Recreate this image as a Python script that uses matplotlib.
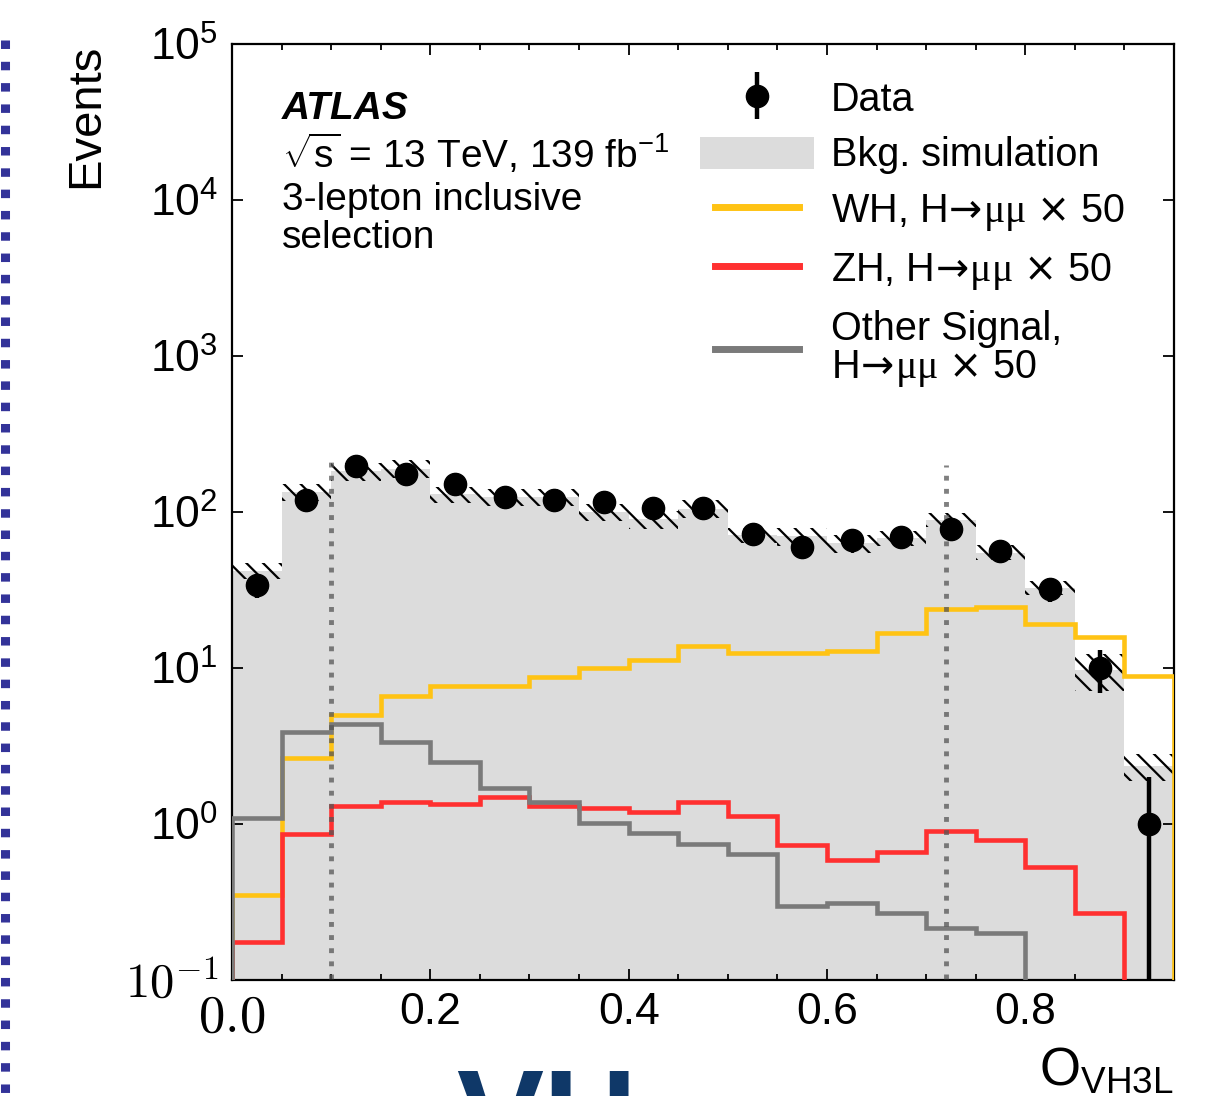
import numpy as np
import matplotlib
matplotlib.use("Agg")
import matplotlib.pyplot as plt
from matplotlib.lines import Line2D
from matplotlib.patches import Patch
from matplotlib.legend_handler import HandlerLine2D, HandlerErrorbar
from matplotlib.container import ErrorbarContainer

# ---------------- data ----------------
edges = [0.00, 0.05, 0.10, 0.15, 0.20, 0.25, 0.30, 0.35, 0.40, 0.45,
         0.50, 0.55, 0.60, 0.65, 0.70, 0.75, 0.80, 0.85, 0.90, 0.95]
data = [34, 119, 197, 175, 151, 125, 119, 116, 106, 106,
        72, 60, 66, 69, 78, 56, 32, 10, 1]
data_err_dn = [5.8, 10.9, 14.0, 13.2, 12.3, 11.2, 10.9, 10.8, 10.3, 10.3,
               8.5, 7.7, 8.1, 8.3, 8.8, 7.5, 5.7, 3.1, 1.0]
data_err_up = [5.8, 10.9, 14.0, 13.2, 12.3, 11.2, 10.9, 10.8, 10.3, 10.3,
               8.5, 7.7, 8.1, 8.3, 8.8, 7.5, 5.7, 3.1, 1.0]
bkg = [42, 134, 182, 190, 130, 125, 125, 100, 90, 105,
       71, 70, 63, 68, 89, 55, 32.6, 9.7, 2.35]
bkg_rel_unc = [0.12, 0.12, 0.13, 0.13, 0.12, 0.13, 0.12, 0.13, 0.13, 0.13,
               0.11, 0.13, 0.13, 0.11, 0.10, 0.11, 0.10, 0.27, 0.20]
wh = [0.35, 2.65, 5.0, 6.6, 7.7, 7.7, 8.7, 10.0, 11.3, 13.8,
      12.5, 12.5, 12.9, 16.8, 23.9, 24.6, 19.1, 15.8, 8.9]
zh = [0.175, 0.86, 1.30, 1.38, 1.34, 1.49, 1.30, 1.26, 1.19, 1.38,
      1.13, 0.73, 0.59, 0.66, 0.90, 0.79, 0.53, 0.27, 0.0]
other = [1.09, 3.89, 4.37, 3.36, 2.50, 1.70, 1.38, 1.01, 0.875, 0.745,
         0.64, 0.30, 0.31, 0.27, 0.215, 0.20, 0.0, 0.0, 0.0]
cut_positions = [0.10, 0.72]
cut_heights = [230, 200]

ytick_vals = [1e-1, 1e0, 1e1, 1e2, 1e3, 1e4, 1e5]
ytick_labels = [r"$10^{-1}$", r"$10^{0}$", r"$10^{1}$", r"$10^{2}$",
                r"$10^{3}$", r"$10^{4}$", r"$10^{5}$"]
xtick_vals = [0.0, 0.2, 0.4, 0.6, 0.8]
xtick_labels = [r"$0.0$", "0.2", "0.4", "0.6", "0.8"]
_hmm = r"H$\!\mathsf{\rightarrow}\!\mathtt{\mu\mu}$ $\mathsf{\times}$ 50"
legend_labels = ["Data", "Bkg. simulation",
                 "WH, " + _hmm,
                 "ZH, " + _hmm,
                 "Other Signal,\n" + _hmm]

# ---------------- style ----------------
plt.rcParams["font.family"] = ["Liberation Sans", "DejaVu Sans"]
plt.rcParams["mathtext.fontset"] = "custom"
plt.rcParams["mathtext.rm"] = "Liberation Sans"
plt.rcParams["mathtext.it"] = "Liberation Sans:italic"
plt.rcParams["mathtext.bf"] = "Liberation Sans:bold"
plt.rcParams["mathtext.sf"] = "DejaVu Sans"
plt.rcParams["mathtext.tt"] = "Liberation Serif"
plt.rcParams["hatch.linewidth"] = 1.6
plt.rcParams["hatch.color"] = "black"

C_BKG = "#dcdcdc"
C_WH = "#ffc314"
C_ZH = "#ff3030"
C_OTH = "#7a7a7a"

edges_a = np.array(edges)
centers = 0.5 * (edges_a[:-1] + edges_a[1:])
widths = np.diff(edges_a)
bkg_a = np.array(bkg)
unc_a = np.array(bkg_rel_unc)

fig = plt.figure(figsize=(12.31, 10.96), dpi=100)
ax = fig.add_axes([232 / 1231, 1 - 980 / 1096, 942 / 1231, 936 / 1096])
ax.set_yscale("log")

# background fill
ax.stairs(bkg, edges, fill=True, color=C_BKG, baseline=1e-3, zorder=1)
# uncertainty hatch
ax.bar(centers, 2 * bkg_a * unc_a, bottom=bkg_a * (1 - unc_a), width=widths,
       fill=False, hatch="\\\\", linewidth=0, edgecolor="black", zorder=2)
# signals
lw = 3.3
ax.stairs(wh, edges, color=C_WH, linewidth=lw, baseline=1e-3, zorder=3)
ax.stairs(zh, edges, color=C_ZH, linewidth=lw, baseline=1e-3, zorder=3)
ax.stairs(other, edges, color=C_OTH, linewidth=lw, baseline=1e-3, zorder=3)
# cut lines
for xc, yt in zip(cut_positions, cut_heights):
    ax.vlines(xc, 1e-3, yt, colors="#555555", alpha=0.75, linewidth=3.5,
              linestyles=(0, (1, 1.7)), zorder=4)
# data
eb = ax.errorbar(centers, data, yerr=[data_err_dn, data_err_up], fmt="o",
                 color="black", markersize=16, elinewidth=3.2, capsize=0,
                 zorder=5)

ax.set_xlim(0, 0.95)
ax.set_ylim(1e-1, 1e5)

# ticks
ax.set_yticks(ytick_vals, ytick_labels)
ax.yaxis.set_minor_locator(matplotlib.ticker.NullLocator())
ax.set_xticks(xtick_vals, xtick_labels)
ax.xaxis.set_minor_locator(matplotlib.ticker.MultipleLocator(0.05))
ax.tick_params(which="both", direction="in", top=True, right=True,
               labelsize=32, width=1.3)
ax.tick_params(which="major", length=8)
ax.tick_params(which="minor", length=4)
ax.tick_params(axis="y", pad=10)
ax.tick_params(axis="x", pad=9)
for t in ax.get_yticklabels():
    if "-1" in t.get_text():
        t.set_math_fontfamily("cm")
        t.set_fontsize(35)
for t in ax.get_xticklabels():
    if t.get_text().startswith("$"):
        t.set_math_fontfamily("cm")
        t.set_fontsize(38)
for s in ax.spines.values():
    s.set_linewidth(1.6)

ax.set_ylabel("Events", loc="top", fontsize=34, labelpad=12)
ax.set_xlabel(r"$\mathrm{O}_{\mathrm{VH3L}}$", loc="right", fontsize=38,
              labelpad=2)

# annotations
tx = 0.053
ax.text(tx, 0.9199, "ATLAS", transform=ax.transAxes, fontsize=28,
        fontweight="bold", fontstyle="italic", va="baseline")
ax.text(tx, 0.8675, r"$\sqrt{\mathrm{s}}$ = 13 TeV, 139 fb$^{\mathrm{-1}}$",
        transform=ax.transAxes, fontsize=28, va="baseline")
ax.text(tx, 0.8226, "3-lepton inclusive", transform=ax.transAxes,
        fontsize=28, va="baseline")
ax.text(tx, 0.7821, "selection", transform=ax.transAxes, fontsize=28,
        va="baseline")

# legend
h_bkg = Patch(facecolor=C_BKG, edgecolor="none")
h_wh = Line2D([], [], color=C_WH, linewidth=5)
h_zh = Line2D([], [], color=C_ZH, linewidth=5)
h_oth = Line2D([], [], color=C_OTH, linewidth=5)
lh = HandlerLine2D(numpoints=2, marker_pad=0.38)
leg = ax.legend([eb, h_bkg, h_wh, h_zh, h_oth], legend_labels,
                loc="upper left", bbox_to_anchor=(0.4968, 0.961),
                frameon=False, fontsize=28.5, numpoints=1,
                handlelength=2.88, handleheight=0.86, handletextpad=0.43,
                labelspacing=0.45, borderpad=0, borderaxespad=0,
                handler_map={Line2D: lh,
                             ErrorbarContainer: HandlerErrorbar(yerr_size=0.6)})
for t in leg.get_texts():
    t.set_linespacing(1.0)

# slide decorations (left dashed strip, cut "VH" title)
fig.add_artist(Line2D([4.5 / 1231, 4.5 / 1231], [1 - 40 / 1096, 0],
                      transform=fig.transFigure, color="#333399",
                      linewidth=6.5, linestyle=(0, (0.94, 1.42)),
                      solid_capstyle="butt", dash_capstyle="butt"))
fig.text(456 / 1231, -0.060, "VH", fontsize=94, fontweight="bold",
         color="#0f3868", va="baseline", ha="left")

fig.savefig("out.png", dpi=100)
